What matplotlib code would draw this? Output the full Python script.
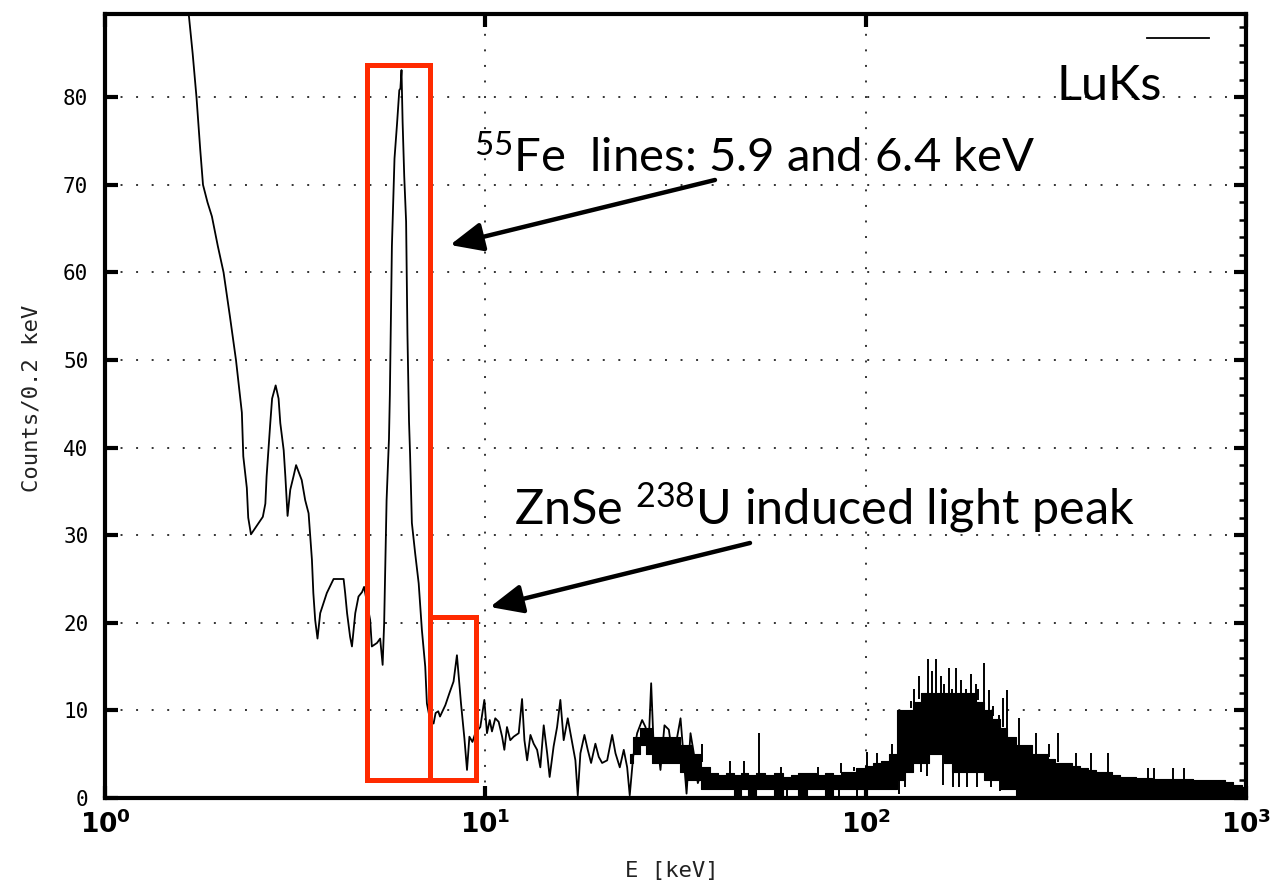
#!/usr/bin/env python3
"""LuKs energy spectrum with 55Fe and ZnSe 238U light peak markings."""

import matplotlib

matplotlib.use("Agg")

import matplotlib.pyplot as plt
import numpy as np
from matplotlib.patches import Rectangle
from matplotlib.ticker import MultipleLocator, NullLocator

plt.rcParams["mathtext.fontset"] = "custom"
plt.rcParams["mathtext.rm"] = "Lato"
plt.rcParams["mathtext.it"] = "Lato:italic"
plt.rcParams["mathtext.bf"] = "Lato:bold"
plt.rcParams["mathtext.default"] = "rm"

# spectrum: (E keV, counts / 0.2 keV)
spectrum_low = [
    (1.62, 95), (1.66, 89.5), (1.70, 85), (1.74, 80), (1.78, 74), (1.81, 70),
    (1.86, 68), (1.91, 66.4), (1.98, 63), (2.05, 60), (2.13, 55), (2.21, 50),
    (2.25, 47), (2.29, 44), (2.31, 39), (2.36, 35.4), (2.38, 32), (2.42, 30.1),
    (2.60, 32.1), (2.64, 33.6), (2.66, 36.7), (2.72, 42.8), (2.75, 45.6),
    (2.81, 47.1), (2.86, 45.6), (2.89, 42.8), (2.95, 39.7), (2.98, 36.7),
    (3.02, 32.2), (3.07, 35.2), (3.13, 36.7), (3.18, 38.0), (3.29, 36.3),
    (3.36, 34.0), (3.43, 32.5), (3.46, 30.2), (3.50, 27.2), (3.53, 23.4),
    (3.57, 20.3), (3.62, 18.2), (3.68, 21.1), (3.75, 22.2), (3.83, 23.4),
    (3.99, 25.0), (4.24, 25.0), (4.28, 23.4), (4.33, 21.1), (4.41, 18.4),
    (4.46, 17.3), (4.55, 21.1), (4.64, 23.0), (4.74, 23.5), (4.80, 24.1),
    (4.90, 22.0), (4.98, 20.3), (5.03, 17.3), (5.19, 17.7), (5.29, 18.2),
    (5.37, 15.2), (5.42, 20.0), (5.50, 34.0), (5.58, 41.0), (5.61, 46.0),
    (5.68, 63.0), (5.77, 73.0), (5.86, 77.0), (5.94, 80.8), (5.98, 81.0),
    (6.02, 83.1), (6.06, 77.2), (6.12, 71.0), (6.19, 65.8), (6.24, 53.0),
    (6.30, 43.0), (6.34, 39.3), (6.41, 31.4), (6.54, 27.9), (6.68, 24.5),
    (6.81, 19.2), (6.95, 15.0), (7.02, 10.8), (7.15, 9.0), (7.31, 8.5),
    (7.40, 9.7), (7.52, 9.9), (7.60, 9.3), (7.85, 10.6), (8.05, 12.0),
    (8.25, 13.3), (8.42, 16.3), (8.50, 14.2), (8.63, 10.8), (8.81, 6.8),
    (8.95, 3.2), (9.08, 7.0), (9.25, 6.4), (9.41, 7.4), (9.70, 8.1),
    (9.94, 11.2), (10.10, 7.4), (10.27, 8.9), (10.41, 7.6), (10.62, 9.1),
    (10.84, 8.7), (11.07, 7.0), (11.22, 5.5), (11.40, 8.1), (11.63, 6.6),
    (11.87, 7.0), (12.24, 7.4), (12.49, 11.3), (12.67, 6.6), (12.88, 4.3),
    (13.14, 7.2), (13.40, 6.2), (13.68, 5.5), (13.95, 3.5), (14.24, 8.3),
    (14.54, 5.1), (14.76, 2.4), (15.12, 5.9), (15.44, 8.1), (15.75, 11.2),
    (16.07, 6.6), (16.47, 9.1), (16.81, 7.0), (17.25, 4.3), (17.50, 0.3),
    (17.78, 5.1), (18.22, 7.2), (18.59, 5.5), (18.97, 4.0), (19.47, 6.2),
    (19.87, 4.7), (20.28, 4.0), (20.91, 4.3), (21.55, 7.2), (21.99, 5.1),
    (22.57, 3.5), (23.12, 5.5), (23.60, 3.5), (23.97, 0.3), (24.47, 4.7),
    (25.07, 7.4), (25.84, 8.9), (26.37, 8.1), (26.90, 6.6), (27.29, 13.1),
    (27.73, 5.5), (28.30, 6.6), (28.87, 3.2), (29.58, 8.3), (30.37, 7.8),
    (30.99, 5.1), (31.62, 5.9), (32.60, 9.1), (33.26, 4.3), (33.81, 0.5),
    (34.63, 7.4), (35.33, 5.1), (36.2, 1.7), (37.2, 3.2), (38.3, 1.3),
    (39.1, 2.4), (40.7, 1.7),
]

# dense part of the spectrum: (E keV, upper counts, lower counts)
dense_band = [
    (24, 5, 4), (25, 7, 5), (26, 8, 6), (27, 8, 5), (28, 7, 4), (29, 7, 4),
    (30, 7, 4), (31, 7, 4), (32, 7, 4), (33, 6, 3), (34, 6, 2), (36, 5, 2),
    (38, 3.5, 1), (40, 2.8, 1), (42, 2.6, 1), (44, 2.8, 1), (46, 2.6, 0),
    (48, 2.8, 1), (50, 2.6, 0), (53, 2.8, 1), (56, 2.6, 1), (59, 2.8, 0),
    (62, 2.4, 1), (65, 2.6, 1), (68, 2.8, 0), (72, 2.8, 1), (76, 2.6, 1),
    (80, 2.8, 0), (84, 2.6, 1), (88, 3.0, 1), (92, 3.0, 1), (97, 3.4, 1),
    (102, 3.6, 1), (107, 4.0, 1), (112, 4.2, 1), (118, 5.0, 1),
    (124, 10, 2), (130, 10, 3), (136, 11, 4), (143, 12, 4), (150, 12, 5),
    (157, 12, 5), (165, 12, 4), (173, 12, 3), (181, 12, 3), (190, 12, 3),
    (200, 11, 3), (210, 10, 2), (220, 9, 2), (230, 8, 1), (242, 7, 1),
    (254, 6, 0), (266, 6, 0), (280, 5, 0), (294, 5, 0), (308, 4.5, 0),
    (323, 4, 0), (340, 4, 0), (357, 3.6, 0), (375, 3.4, 0), (394, 3.2, 0),
    (413, 3, 0), (434, 3, 0), (456, 2.6, 0), (478, 2.4, 0), (502, 2.4, 0),
    (527, 2.3, 0), (554, 2.3, 0), (581, 2.2, 0), (610, 2.2, 0), (641, 2.2, 0),
    (673, 2.2, 0), (706, 2.2, 0), (742, 2.0, 0), (779, 2.0, 0), (818, 2.0, 0),
    (859, 2.0, 0), (902, 1.8, 0), (947, 1.5, 0), (1000, 1.3, 0),
]

# single-bin spikes above the dense band: (E keV, counts)
spikes_up = [
    (37.2, 6.2), (44, 4.2), (48, 4.2), (52.3, 7.4), (60, 3.5), (75, 3.5),
    (86, 4.0), (93, 3.5), (101, 5.3), (107, 5.1), (117.5, 6.2), (127.4, 10.0),
    (131.9, 11.1), (134, 12.5), (138.1, 13.9), (141, 12.0), (146.2, 15.9),
    (149, 14.5), (153.5, 15.9), (157.5, 13.9), (161, 13.0), (165.7, 14.8),
    (169, 12.5), (172.5, 14.8), (178, 13.5), (184, 12.5), (188.9, 14.2),
    (195, 13.0), (198, 12.5), (204.7, 15.4), (211.2, 12.3), (216, 10.5),
    (224, 9.5), (229, 11.4), (236, 12.3), (253, 9.1), (280, 7.4),
    (303.6, 6.2), (320.6, 7.4), (357, 5.1), (391, 5.1), (432.5, 5.1),
    (551, 3.4), (574, 3.4), (641, 3.4), (688, 3.4),
]

# single-bin dips below the dense band: (E keV, counts)
spikes_down = [
    (62, 0), (70, 0), (85, 0), (95, 0), (122, 0.5), (127, 1.3), (140, 3.0),
    (145, 2.5), (160, 1.5), (170, 1.3), (176, 1.3), (185, 1.3), (196, 1.3),
    (214, 1.3), (226, 0.8),
]

Y_TICKS = [0, 10, 20, 30, 40, 50, 60, 70, 80]
X_TICKS = [1, 10, 100, 1000]
X_TICK_LABELS = [r"$\mathbf{10^{0}}$", r"$\mathbf{10^{1}}$", r"$\mathbf{10^{2}}$", r"$\mathbf{10^{3}}$"]

FE_BOX = (4.88, 7.17, 2.05, 83.7)
ZNSE_BOX = (7.17, 9.47, 2.05, 20.7)
BOX_RED = "#ff2a00"


def main() -> None:
    spec_E, spec_counts = (np.array(v) for v in zip(*spectrum_low))
    dense_E, dense_hi, dense_lo = (np.array(v, dtype=float) for v in zip(*dense_band))
    up_E, up_top = (np.array(v, dtype=float) for v in zip(*spikes_up))
    dn_E, dn_bot = (np.array(v, dtype=float) for v in zip(*spikes_down))

    fig = plt.figure(figsize=(12.78, 8.86), dpi=100)
    ax = fig.add_axes([105 / 1278, 88 / 886, 1141 / 1278, 784 / 886])

    ax.plot(spec_E, spec_counts, color="black", lw=1.3, zorder=3)
    ax.fill_between(dense_E, dense_lo, dense_hi, step="mid", facecolor="black",
                    edgecolor="black", lw=0.8, zorder=3)
    ax.vlines(up_E, np.interp(up_E, dense_E, dense_hi), up_top, color="black", lw=1.4, zorder=3)
    ax.vlines(dn_E, dn_bot, np.interp(dn_E, dense_E, dense_lo) + 0.5, color="black", lw=1.4, zorder=3)

    for x0, x1, y0, y1 in (FE_BOX, ZNSE_BOX):
        ax.add_patch(Rectangle((x0, y0), x1 - x0, y1 - y0, fill=False, edgecolor=BOX_RED,
                               lw=3.6, joinstyle="miter", zorder=4))

    ax.set_xscale("log")
    ax.set_xlim(1, 1000)
    ax.set_ylim(0, 89.5)
    ax.set_xticks(X_TICKS)
    ax.set_xticklabels(X_TICK_LABELS, fontsize=19, math_fontfamily="dejavusans")
    ax.xaxis.set_minor_locator(NullLocator())
    ax.set_yticks(Y_TICKS)
    ax.set_yticklabels([str(v) for v in Y_TICKS], fontsize=15, family="DejaVu Sans Mono")
    ax.yaxis.set_minor_locator(MultipleLocator(2))

    ax.tick_params(axis="both", which="major", direction="in", width=3, length=9,
                   top=True, right=True, color="black")
    ax.tick_params(axis="x", pad=9)
    ax.tick_params(axis="y", pad=12)
    ax.tick_params(axis="y", which="minor", direction="in", left=False, right=True,
                   width=1.8, length=5)
    for spine in ax.spines.values():
        spine.set_linewidth(3)
        spine.set_zorder(5)

    ax.grid(True, which="major", color="#333333", linestyle=(0, (1, 7)), lw=1.4)

    fig.text(32 / 1278, 1 - 398 / 886, "Counts/0.2 keV", rotation=90, ha="center", va="center",
             fontsize=16, family="DejaVu Sans Mono", color="#222222")
    fig.text(672 / 1278, 1 - 871 / 886, "E [keV]", ha="center", va="center",
             fontsize=16, family="DejaVu Sans Mono", color="#222222")

    # legend stub and annotations
    ax.plot([0.913, 0.968], [0.969, 0.969], transform=ax.transAxes, color="black", lw=1.3)
    ax.text(0.834, 0.890, "LuKs", transform=ax.transAxes, fontsize=35, family="Lato",
            ha="left", va="baseline")
    ax.text(0.3234, 0.798, r"$^{55}$Fe  lines: 5.9 and 6.4 keV", transform=ax.transAxes,
            fontsize=34, family="Lato", ha="left", va="baseline", zorder=6)
    ax.text(0.3585, 0.3495, r"ZnSe $^{238}$U induced light peak", transform=ax.transAxes,
            fontsize=35, family="Lato", ha="left", va="baseline", zorder=6)

    arrow = dict(arrowstyle="-|>,head_length=0.9,head_width=0.4", lw=3.2, color="black",
                 mutation_scale=22, shrinkA=0, shrinkB=0)
    ax.annotate("", xy=(0.3024, 0.7054), xytext=(0.5346, 0.7883), xycoords="axes fraction",
                textcoords="axes fraction", arrowprops=arrow, zorder=6)
    ax.annotate("", xy=(0.3374, 0.2436), xytext=(0.5653, 0.3253), xycoords="axes fraction",
                textcoords="axes fraction", arrowprops=arrow, zorder=6)

    fig.savefig("out.png", dpi=100, facecolor="white")
    plt.close(fig)


if __name__ == "__main__":
    main()
